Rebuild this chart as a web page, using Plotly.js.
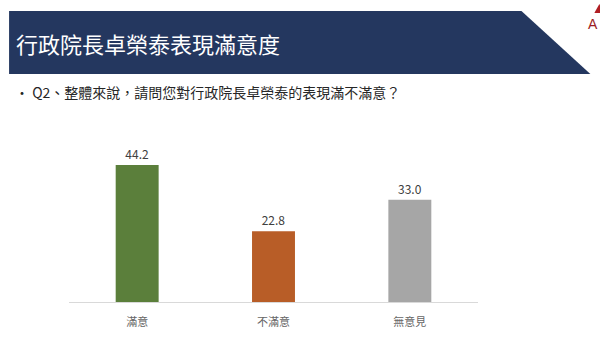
<!DOCTYPE html>
<html>
<head>
<meta charset="utf-8">
<script src="https://cdn.plot.ly/plotly-3.0.1.min.js"></script>
<style>
html,body{margin:0;padding:0;background:#fff;overflow:hidden;}
#chart{width:600px;height:342px;}
</style>
</head>
<body>
<div id="chart"></div>
<script>
const categories = ["滿意", "不滿意", "無意見"];
const values = [44.2, 22.8, 33.0];
const colors = ["#5b7f3b", "#b85d27", "#a6a6a6"];
const titleText = "行政院長卓榮泰表現滿意度";
const questionText = "• Q2、整體來說，請問您對行政院長卓榮泰的表現滿不滿意？";

const W = 600, H = 342;
const ml = 69, mr = 121.5, mt = 147, mb = 40;
const pw = W - ml - mr, ph = H - mt - mb;
function px(x){ return (x - ml) / pw; }
function py(y){ return (H - mb - y) / ph; }

const font = "'Noto Sans CJK TC', 'Noto Sans', sans-serif";

const trace = {
  type: "bar",
  x: categories,
  y: values,
  marker: {color: colors},
  text: values.map(v => v.toFixed(1)),
  textposition: "outside",
  textfont: {family: font, size: 12, color: "#404040"},
  cliponaxis: false,
  hoverinfo: "none"
};

const bannerPath = "M " + px(9) + " " + py(11) + " L " + px(522) + " " + py(11) +
  " L " + px(591) + " " + py(74) + " L " + px(9) + " " + py(74) + " Z";
const logoPath = "M " + px(595) + " " + py(13) + " L " + px(600) + " " + py(4) +
  " L " + px(605) + " " + py(13) + " Z";

const layout = {
  width: W, height: H,
  margin: {l: ml, r: mr, t: mt, b: mb, pad: 0},
  paper_bgcolor: "#ffffff",
  plot_bgcolor: "#ffffff",
  showlegend: false,
  bargap: 0.685,
  font: {family: font},
  xaxis: {
    type: "category",
    range: [-0.5, 2.5],
    showline: true, linecolor: "#d9d9d9", linewidth: 1,
    ticks: "", showgrid: false, zeroline: false,
    tickfont: {family: font, size: 11, color: "#666666"},
    ticklabelstandoff: 10,
    fixedrange: true
  },
  yaxis: {
    range: [0, 50],
    visible: false, showgrid: false, zeroline: false,
    fixedrange: true
  },
  shapes: [
    {type: "path", xref: "paper", yref: "paper", path: bannerPath,
     fillcolor: "#24375f", line: {width: 0}, layer: "below"},
    {type: "path", xref: "paper", yref: "paper", path: logoPath,
     fillcolor: "#b01e23", line: {width: 0}, layer: "below"}
  ],
  annotations: [
    {xref: "paper", yref: "paper", x: px(14), y: py(42.5), xanchor: "left", yanchor: "middle",
     text: titleText, showarrow: false,
     font: {family: font, size: 22, color: "#ffffff"}},
    {xref: "paper", yref: "paper", x: px(13), y: py(92), xanchor: "left", yanchor: "middle",
     text: questionText, showarrow: false,
     font: {family: font, size: 14, color: "#262626"}},
    {xref: "paper", yref: "paper", x: px(587), y: py(24), xanchor: "left", yanchor: "middle",
     text: "A", showarrow: false,
     font: {family: "'Liberation Sans', sans-serif", size: 14, color: "#9b1c22"}}
  ]
};

Plotly.newPlot("chart", [trace], layout, {displayModeBar: false, staticPlot: true});
</script>
</body>
</html>
